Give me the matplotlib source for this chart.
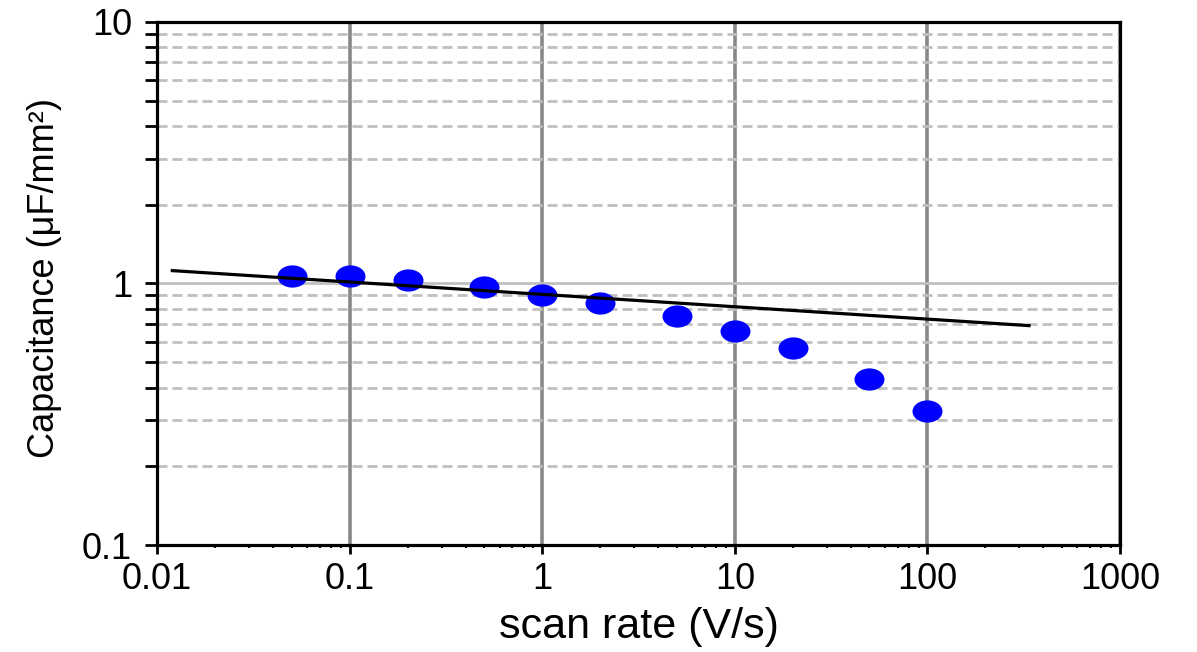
import matplotlib.pyplot as plt
from matplotlib.path import Path
from matplotlib.transforms import Affine2D
from matplotlib.ticker import FixedLocator, FixedFormatter, LogLocator, NullFormatter

scan_rate = [0.05, 0.1, 0.2, 0.5, 1, 2, 5, 10, 20, 50, 100]
capacitance = [1.07, 1.07, 1.028, 0.970, 0.906, 0.842, 0.752, 0.661, 0.565, 0.431, 0.325]

# power-law fit line, end points
fit_x = [0.012, 337]
fit_y = [1.12, 0.69]

x_ticks = [0.01, 0.1, 1, 10, 100, 1000]
x_labels = ["0.01", "0.1", "1", "10", "100", "1000"]
y_ticks = [0.1, 1, 10]
y_labels = ["0.1", "1", "10"]

plt.rcParams['font.family'] = ['Liberation Sans', 'DejaVu Sans']

fig = plt.figure(figsize=(11.97, 6.52), dpi=100)
ax = fig.add_axes([0.1312, 0.1641, 0.8045, 0.8022])

ax.set_xscale("log")
ax.set_yscale("log")
ax.set_xlim(0.01, 1000)
ax.set_ylim(0.1, 10)

# grid: dark solid verticals, light solid/dashed horizontals
ax.set_axisbelow(True)
ax.grid(which="major", axis="x", color="#888888", lw=2.6)
ax.grid(which="major", axis="y", color="#c0c0c0", lw=2.0)
ax.grid(which="minor", axis="y", color="#c0c0c0", lw=2.0, ls=(0, (3.6, 1.8)))

# slightly wide ellipse marker
ellipse = Path.unit_circle().transformed(Affine2D().scale(1.35, 1.0))
ax.plot(scan_rate, capacitance, ls="none", marker=ellipse, markersize=21.6,
        color="#0000ff", markeredgewidth=0, zorder=3)
ax.plot(fit_x, fit_y, color="black", lw=2.3, zorder=4)

ax.xaxis.set_major_locator(FixedLocator(x_ticks))
ax.xaxis.set_major_formatter(FixedFormatter(x_labels))
ax.yaxis.set_major_locator(FixedLocator(y_ticks))
ax.yaxis.set_major_formatter(FixedFormatter(y_labels))
ax.xaxis.set_minor_locator(LogLocator(base=10, subs=range(2, 10), numticks=20))
ax.yaxis.set_minor_locator(LogLocator(base=10, subs=range(2, 10), numticks=20))
ax.xaxis.set_minor_formatter(NullFormatter())
ax.yaxis.set_minor_formatter(NullFormatter())

ax.tick_params(axis="x", which="major", direction="out", length=6.5, width=2,
               labelsize=26, pad=6, top=False)
ax.tick_params(axis="x", which="minor", direction="out", length=2.5, width=1.5, top=False)
ax.tick_params(axis="y", which="both", direction="out", length=9, width=2,
               labelsize=26, pad=9, right=False)

for side in ax.spines.values():
    side.set_linewidth(2.3)
    side.set_color("black")
    side.set_zorder(5)

ax.set_xlabel("scan rate (V/s)", fontsize=31)
ax.set_ylabel("Capacitance (μF/mm²)", fontsize=26)
ax.xaxis.set_label_coords(0.5, -0.118)
ax.yaxis.set_label_coords(-0.099, 0.51)

fig.savefig("out.png", dpi=100, facecolor="white")
